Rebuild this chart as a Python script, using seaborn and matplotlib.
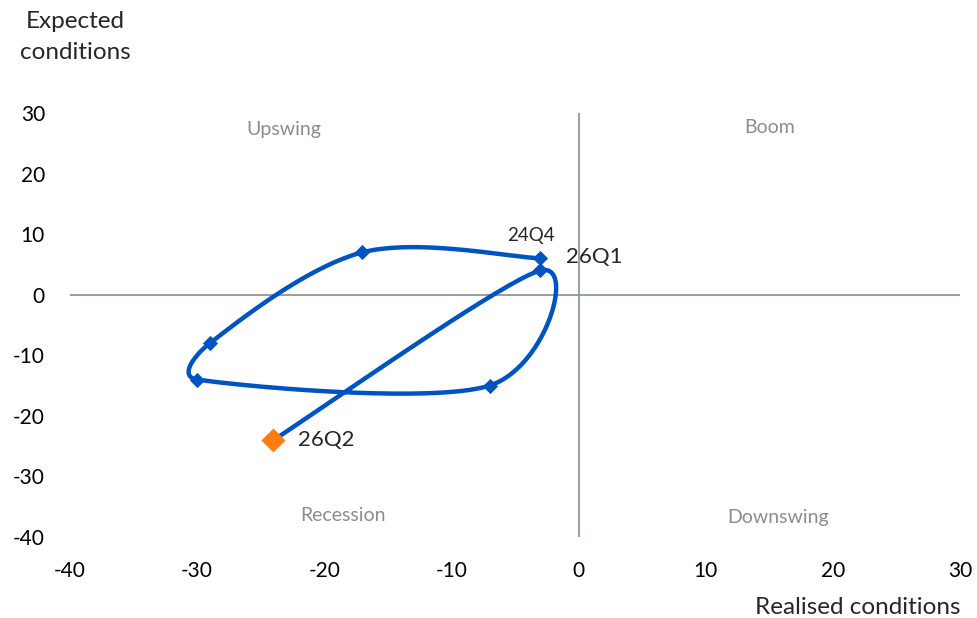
import numpy as np
import pandas as pd
import matplotlib
matplotlib.use("Agg")
import matplotlib.pyplot as plt
import seaborn as sns

quarters = ["24Q4", "25Q1", "25Q2", "25Q3", "25Q4", "26Q1", "26Q2"]
realised = [-3, -17, -29, -30, -7, -3, -24]
expected = [6, 7, -8, -14, -15, 4, -24]
quadrants = ["Upswing", "Boom", "Recession", "Downswing"]
x_ticks = [-40, -30, -20, -10, 0, 10, 20, 30]
y_ticks = [-40, -30, -20, -10, 0, 10, 20, 30]

BLUE = "#0053C2"
ORANGE = "#FF7C10"
GRAY = "#8E9696"
TXTGRAY = "#8C8C8C"

sns.set_theme(style="white")
plt.rcParams["font.family"] = ["Lato", "DejaVu Sans"]
plt.rcParams["axes.unicode_minus"] = False

# pixel scale of the plot area (x: 890px / 70 units, y: 424px / 70 units)
SX, SY = 890 / 70, 424 / 70


def smooth(xs, ys, n=40):
    # Excel-style smoothed line: cubic Bezier, Catmull-Rom controls capped at half segment length
    P = np.column_stack([np.asarray(xs, float) * SX, np.asarray(ys, float) * SY])
    m = len(P)
    out = []
    for i in range(m - 1):
        p0 = P[i - 1] if i > 0 else P[i]
        p1 = P[i]
        p2 = P[i + 1]
        p3 = P[i + 2] if i + 2 < m else P[i + 1]
        d12 = np.linalg.norm(p2 - p1)
        d02 = np.linalg.norm(p2 - p0)
        d13 = np.linalg.norm(p3 - p1)
        f1 = 1 / 6
        f2 = 1 / 6
        if d02 * f1 > d12 / 2 and d02 > 0:
            f1 = d12 / (2 * d02)
        if d13 * f2 > d12 / 2 and d13 > 0:
            f2 = d12 / (2 * d13)
        c1 = p1 + (p2 - p0) * f1
        c2 = p2 - (p3 - p1) * f2
        t = np.linspace(0, 1, n, endpoint=(i == m - 2))[:, None]
        seg = ((1 - t) ** 3) * p1 + 3 * ((1 - t) ** 2) * t * c1 + 3 * (1 - t) * t ** 2 * c2 + t ** 3 * p2
        out.append(seg)
    out = np.vstack(out)
    return out[:, 0] / SX, out[:, 1] / SY


sx, sy = smooth(realised, expected)
curve = pd.DataFrame({"x": sx, "y": sy})
pts = pd.DataFrame({"x": realised, "y": expected, "q": quarters})

fig = plt.figure(figsize=(9.78, 6.18), dpi=100)
ax = fig.add_axes([70 / 978, 1 - 537 / 618, 890 / 978, 424 / 618])

ax.axhline(0, color=GRAY, lw=1.3, zorder=1)
ax.axvline(0, color=GRAY, lw=1.3, zorder=1)

sns.lineplot(data=curve, x="x", y="y", sort=False, estimator=None, color=BLUE,
             lw=3.2, ax=ax, zorder=3)
sns.scatterplot(data=pts.iloc[:-1], x="x", y="y", marker="D", s=60, color=BLUE,
                edgecolor=BLUE, linewidth=0, ax=ax, zorder=4)
sns.scatterplot(data=pts.iloc[-1:], x="x", y="y", marker="D", s=150, color=ORANGE,
                edgecolor=ORANGE, linewidth=0, ax=ax, zorder=5)

ax.set_xlim(-40, 30)
ax.set_ylim(-40, 30)
ax.set_xticks(x_ticks)
ax.set_yticks(y_ticks)
ax.tick_params(axis="both", length=0, labelsize=15, colors="black")
ax.tick_params(axis="x", pad=17)
ax.tick_params(axis="y", pad=18)
for s in ax.spines.values():
    s.set_visible(False)
ax.set_xlabel("")
ax.set_ylabel("")
ax.grid(False)

# point labels
ax.annotate(quarters[0], (realised[0], expected[0]), xytext=(-7, 16.5), textcoords="offset points",
            ha="center", va="center", fontsize=13.5)
ax.annotate(quarters[5], (realised[5], expected[5]), xytext=(18.5, 9.5), textcoords="offset points",
            ha="left", va="center", fontsize=16)
ax.annotate(quarters[6], (realised[6], expected[6]), xytext=(18, 0), textcoords="offset points",
            ha="left", va="center", fontsize=16)

# quadrant labels
qpos = [(-23.2, 27.3), (15, 27.6), (-18.5, -36.4), (15.7, -36.7)]
for name, (qx, qy) in zip(quadrants, qpos):
    ax.text(qx, qy, name, ha="center", va="center", fontsize=14, color=TXTGRAY)

fig.text(75 / 978, 1 - 37 / 618, "Expected\nconditions", ha="center", va="center",
         fontsize=17.5, linespacing=1.6)
fig.text(858 / 978, 1 - 608 / 618, "Realised conditions", ha="center", va="center",
         fontsize=17.5)

fig.savefig("out.png", dpi=100, facecolor="white")
